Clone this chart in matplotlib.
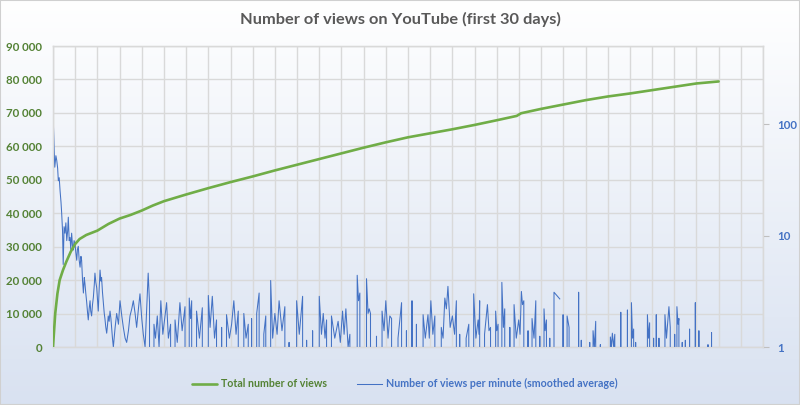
import numpy as np
import matplotlib
matplotlib.use("Agg")
import matplotlib.pyplot as plt
from matplotlib.ticker import FixedLocator, FuncFormatter, NullLocator
from matplotlib.patches import Rectangle

plt.rcParams['font.family'] = ['Lato', 'DejaVu Sans']

title = "Number of views on YouTube (first 30 days)"
label_total = "Total number of views"
label_rate = "Number of views per minute (smoothed average)"

# cumulative views (left axis), x in days
total_days = [0, 0.05, 0.1, 0.2, 0.3, 0.45, 0.6, 0.8, 1.0, 1.2, 1.5, 2, 2.5, 3, 3.5, 4,
              4.5, 5, 6, 7, 8, 9, 10, 11, 12, 13, 14, 15, 16, 17, 18,
              19, 20, 20.9, 21.1, 22, 23, 24, 25, 26, 27, 28, 29, 30]
total_views = [0, 5000, 10000, 16000, 20000, 23000, 25500, 28500, 30800, 32300, 33500,
               34800, 36800, 38400, 39500, 40800, 42300, 43600, 45600, 47500, 49300,
               51000, 52800, 54500, 56200, 57900, 59600, 61200, 62700, 63900, 65100,
               66400, 67800, 69100, 69900, 71200, 72500, 73800, 74900, 75800, 76800,
               77800, 78800, 79400]

# views per minute (right axis, log), peaks and troughs
rate_days = [0.02, 0.05, 0.08, 0.13, 0.17, 0.21, 0.24, 0.28, 0.32, 0.36, 0.39, 0.43, 0.46,
             0.50, 0.54, 0.58, 0.62, 0.66, 0.69, 0.73, 0.77, 0.80, 0.84, 0.88, 0.91, 0.95,
             0.99, 1.03, 1.07, 1.10, 1.14, 1.18, 1.22, 1.26, 1.29, 1.33, 1.37, 1.41, 1.44,
             1.48, 1.52, 1.56, 1.59, 1.63, 1.67, 1.70, 1.74, 1.78, 1.82, 1.86, 1.89, 1.93,
             1.97, 2.01, 2.04, 2.08, 2.12, 2.16, 2.19, 2.23, 2.27, 2.31, 2.34, 2.38, 2.42,
             2.46, 2.49, 2.53, 2.57, 2.61, 2.64, 2.68, 2.72, 2.80, 2.87, 2.95, 3.02, 3.10,
             3.17, 3.25, 3.32, 3.40, 3.47, 3.55, 3.62, 3.70, 3.77, 3.85, 3.92, 4.00, 4.07,
             4.15, 4.22, 4.29, 4.35, 4.44, 4.55, 4.62, 4.70, 4.78, 4.86, 4.95, 5.05, 5.12,
             5.20, 5.30, 5.40, 5.50, 5.60, 5.72, 5.82, 5.95, 6.05, 6.14, 6.20, 6.25, 6.35,
             6.47, 6.60, 6.73, 6.85, 7.00, 7.08, 7.18, 7.28, 7.37, 7.48, 7.60, 7.70, 7.82,
             7.95, 8.05, 8.15, 8.25, 8.35, 8.48, 8.60, 8.70, 8.80, 8.88, 8.95, 9.05, 9.18,
             9.29, 9.40, 9.50, 9.59, 9.70, 9.81, 9.90, 10.00, 10.10, 10.19, 10.32, 10.45,
             10.55, 10.64, 10.80, 10.98, 11.10, 11.25, 11.35, 11.43, 11.55, 11.70, 11.85,
             12.00, 12.10, 12.18, 12.26, 12.33, 12.45, 12.55, 12.70, 12.85, 12.95, 13.05,
             13.12, 13.20, 13.30, 13.38, 13.55, 13.71, 13.77, 13.83, 13.95, 14.13, 14.20,
             14.25, 14.31, 14.45, 14.58, 14.70, 14.83, 14.92, 15.00, 15.10, 15.18, 15.26,
             15.40, 15.55, 15.71, 15.82, 15.93, 16.05, 16.18, 16.28, 16.38, 16.52, 16.68,
             16.78, 16.90, 16.96, 17.03, 17.12, 17.21, 17.35, 17.50, 17.58, 17.66, 17.73,
             17.80, 17.90, 18.00, 18.10, 18.18, 18.25, 18.33, 18.50, 18.62, 18.74, 18.85,
             18.96, 19.06, 19.16, 19.20, 19.23, 19.35, 19.45, 19.58, 19.65, 19.72, 19.82,
             19.95, 20.00, 20.06, 20.15, 20.23, 20.30, 20.36, 20.48, 20.59, 20.68, 20.78,
             20.88, 20.99, 21.05, 21.11, 21.16, 21.22, 21.32, 21.41, 21.50, 21.59, 21.68,
             21.76, 21.85, 21.94, 22.03, 22.13, 22.18, 22.24, 22.32, 22.39, 22.48, 22.58,
             22.84, 22.90, 22.95, 22.99, 23.08, 23.17, 23.26, 23.35, 23.60, 23.69, 23.74,
             23.81, 23.90, 24.10, 24.19, 24.26, 24.34, 24.40, 24.46, 24.55, 24.67, 24.75,
             25.05, 25.12, 25.17, 25.21, 25.27, 25.32, 25.40, 25.52, 25.59, 25.65, 25.80,
             25.89, 25.95, 26.02, 26.07, 26.12, 26.17, 26.22, 26.26, 26.32, 26.72, 26.79,
             26.84, 26.89, 26.95, 27.07, 27.13, 27.19, 27.25, 27.31, 27.38, 27.52, 27.58,
             27.65, 27.76, 27.82, 27.90, 28.02, 28.07, 28.12, 28.17, 28.21, 28.28, 28.36,
             28.43, 28.50, 28.56, 28.65, 28.69, 28.76, 28.90, 28.95, 29.03, 29.11, 29.18,
             29.48, 29.52, 29.58, 29.68, 29.74]
rate_views = [97, 60, 41, 52, 47, 40, 31, 33, 25, 20, 16, 11, 5.5,
              12, 10.5, 13, 9, 11, 14.6, 9, 9.6, 7.5, 10.5, 8, 7.4, 9,
              8.5, 7, 6, 7.5, 8, 6, 5.2, 6.5, 6, 4, 3.05, 4.2, 3.7,
              3, 2.5, 2, 1.75, 2.2, 2.6, 2.1, 1.9, 2.4, 2.8, 3.6, 4.6, 3.8,
              3.4, 2.6, 2.1, 3.3, 4.9, 3.9, 4.2, 3.1, 2.5, 2.0, 1.8, 1.5, 1.33,
              1.6, 1.9, 1.7, 2.1, 1.8, 1.5, 1.2, 1.0, 1.5, 2.0, 1.6, 2.6, 1.9,
              1.5, 1.2, 1.1, 1.4, 1.9, 2.2, 2.6, 2.0, 1.5, 2.2, 3.0, 1.8, 1.3,
              1.0, 2.2, 4.6, 2.5, 0, 1.6, 1.2, 1.9, 1.0, 2.6, 1.3, 1.9, 2.5,
              1.2, 1.6, 0, 1.75, 1.1, 2.5, 1.4, 2.3, 0, 2.75, 1.8, 2.6, 0,
              2.1, 1.2, 2.25, 0, 2.9, 1.5, 2.85, 1.2, 1.75, 0, 1.5, 0, 1.95,
              1.2, 1.6, 2.6, 1.3, 2.1, 0, 2.0, 1.2, 1.6, 0, 1.8, 0, 2.0,
              3.05, 0, 1.3, 1.9, 0, 3.95, 1.2, 2.0, 1.3, 2.6, 1.4, 2.3,
              0, 1.1, 0, 2.6, 1.3, 2.85, 0, 1.15, 0, 1.4, 0,
              2.85, 1.3, 2.0, 1.2, 1.75, 0, 1.9, 1.2, 1.7, 1.1, 2.1,
              1.3, 2.2, 1.0, 1.3, 0, 4.4, 2.6, 3.05, 0, 4.1, 2.0,
              2.2, 2.0, 0, 1.25, 0, 2.1, 1.4, 2.6, 1.2, 1.9, 1.8,
              0, 1.2, 2.5, 0, 1.4, 0, 2.6, 0, 1.6, 0, 1.95,
              1.2, 1.95, 1.2, 2.6, 1.3, 1.9, 0, 1.5, 1.2, 2.75, 2.2,
              3.5, 1.5, 1.9, 1.3, 2.6, 0, 1.3, 0, 1.2, 1.6, 0,
              3.0, 1.2, 1.75, 1.3, 2.6, 0, 1.3, 2.4, 1.4, 1.5, 0,
              2.1, 1.4, 1.6, 0, 3.8, 1.5, 2.2, 0, 1.5, 0, 2.4,
              1.2, 1.75, 1.3, 3.15, 2.4, 2.6, 0, 1.4, 0, 1.8, 1.2,
              2.6, 0, 1.25, 0, 2.2, 1.4, 1.75, 0, 1.2, 0, 3.1,
              2.7, np.nan, 0, 1.95, 0, 1.9, 1.5, 0, 0, 3.1, 0,
              1.15, 0, 0, 1.1, 0, 1.4, 1.0, 1.7, 0, 1.05, 0,
              0, 1.23, 1.0, 1.33, 1.0, 1.3, 0, 0, 2.05, 0, 0,
              2.15, 0, 0, 2.5, 1.2, 1.45, 0, 1.1, 0, 0, 1.95,
              1.2, 1.65, 0, 1.2, 0, 1.95, 0, 1.2, 0, 0, 1.95,
              1.2, 2.3, 1.5, 0, 1.3, 0, 2.3, 1.6, 1.8, 0, 1.1,
              0, 1.15, 0, 0, 1.45, 0, 0, 2.5, 0, 1.4, 0,
              0, 1.05, 0, 1.35, 0]

left_ticks = [0, 10000, 20000, 30000, 40000, 50000, 60000, 70000, 80000, 90000]
right_ticks = [1, 10, 100]

green = '#70ad47'
blue = '#4472c4'
grid_col = '#d9d9d9'

fig = plt.figure(figsize=(8, 4.05), dpi=100)

# background gradient, white at top to light blue at bottom
bg = fig.add_axes([0, 0, 1, 1], zorder=-10)
grad = np.linspace(0, 1, 256)[:, None]
top_c = np.array([1.0, 1.0, 1.0])
bot_c = np.array([0.85, 0.885, 0.945])
img = top_c + (bot_c - top_c) * grad[:, :, None]
bg.imshow(img, aspect='auto', extent=[0, 1, 0, 1])
bg.set_axis_off()
fig.patches.append(Rectangle((0, 0), 1, 1, transform=fig.transFigure, fill=False,
                             edgecolor='#d0d0d0', linewidth=1.5))

ax = fig.add_axes([0.06625, 0.1432, 0.8875, 0.7432])
ax.patch.set_visible(False)
ax2 = ax.twinx()

ax.set_xlim(0, 32)
ax.set_ylim(0, 90000)
ax.xaxis.set_major_locator(FixedLocator(np.arange(0, 33)))
ax.yaxis.set_major_locator(FixedLocator(left_ticks))
ax.grid(True, color=grid_col, linewidth=1)
ax.set_axisbelow(True)
ax.tick_params(axis='x', length=0, labelbottom=False)
ax.tick_params(axis='y', length=0, pad=8, labelcolor='#548235', labelsize=8.3)
ax.yaxis.set_major_formatter(FuncFormatter(lambda v, p: f"{int(v):,}".replace(",", " ")))
for lab in ax.get_yticklabels():
    lab.set_fontweight('bold')
for s in ax.spines.values():
    s.set_color(grid_col)
    s.set_linewidth(1)

ax2.set_yscale('log', nonpositive='clip')
ax2.set_ylim(1, 10 ** 2.70)
ax2.yaxis.set_major_locator(FixedLocator(right_ticks))
ax2.yaxis.set_minor_locator(NullLocator())
ax2.yaxis.set_major_formatter(FuncFormatter(lambda v, p: f"{int(v)}"))
ax2.tick_params(axis='y', length=4, color='#bfbfbf', labelcolor=blue, labelsize=8.3, pad=6)
for lab in ax2.get_yticklabels():
    lab.set_fontweight('bold')
for s in ax2.spines.values():
    s.set_color(grid_col)

rate_line, = ax2.plot(rate_days, rate_views, color=blue, linewidth=0.75, zorder=2)
# cumulative line drawn in ax2 with ax's data transform so it stays on top
total_line, = ax2.plot(total_days, total_views, color=green, linewidth=1.9,
                       transform=ax.transData, zorder=3, solid_capstyle='round')
ax2.set_ylim(1, 10 ** 2.70)
ax2.set_xlim(0, 32)

fig.text(0.5, 0.952, title, ha='center', va='center', fontsize=11.8,
         fontweight='bold', color='#595959')

leg = fig.legend([total_line, rate_line], [label_total, label_rate],
                 loc='center', bbox_to_anchor=(0.506, 0.052), ncol=2, frameon=False,
                 fontsize=7.7, handlelength=2.3, columnspacing=2.8, handletextpad=0.4)
for txt, c in zip(leg.get_texts(), [green, blue]):
    txt.set_color('#548235' if c == green else blue)
    txt.set_fontweight('bold')

fig.savefig('out.png', dpi=100)
